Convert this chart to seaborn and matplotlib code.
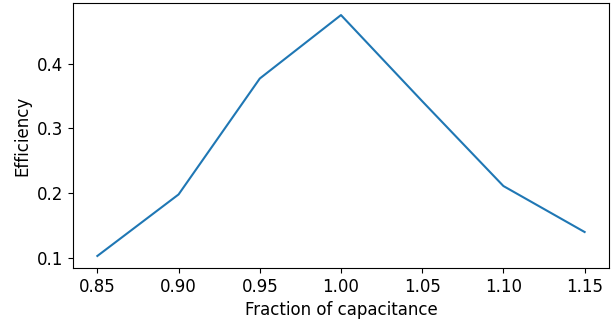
import matplotlib
matplotlib.use("Agg")
import matplotlib.pyplot as plt
import seaborn as sns
import pandas as pd

fraction = [0.85, 0.90, 0.95, 1.00, 1.05, 1.10, 1.15]
efficiency = [0.103, 0.198, 0.377, 0.475, 0.342, 0.211, 0.140]

df = pd.DataFrame({"Fraction of capacitance": fraction, "Efficiency": efficiency})

fig, ax = plt.subplots(figsize=(6.16, 3.24), dpi=100)
sns.lineplot(data=df, x="Fraction of capacitance", y="Efficiency", ax=ax, color="#1f77b4", linewidth=1.5)
ax.tick_params(labelsize=12)
ax.set_xlabel("Fraction of capacitance", fontsize=12)
ax.set_ylabel("Efficiency", fontsize=12)
ax.set_xticks([0.85, 0.90, 0.95, 1.00, 1.05, 1.10, 1.15])
ax.set_xticklabels(["0.85", "0.90", "0.95", "1.00", "1.05", "1.10", "1.15"])
ax.set_yticks([0.1, 0.2, 0.3, 0.4])
fig.subplots_adjust(left=0.1185, right=0.9886, top=0.9907, bottom=0.1728)
fig.savefig("out.png", dpi=100)
